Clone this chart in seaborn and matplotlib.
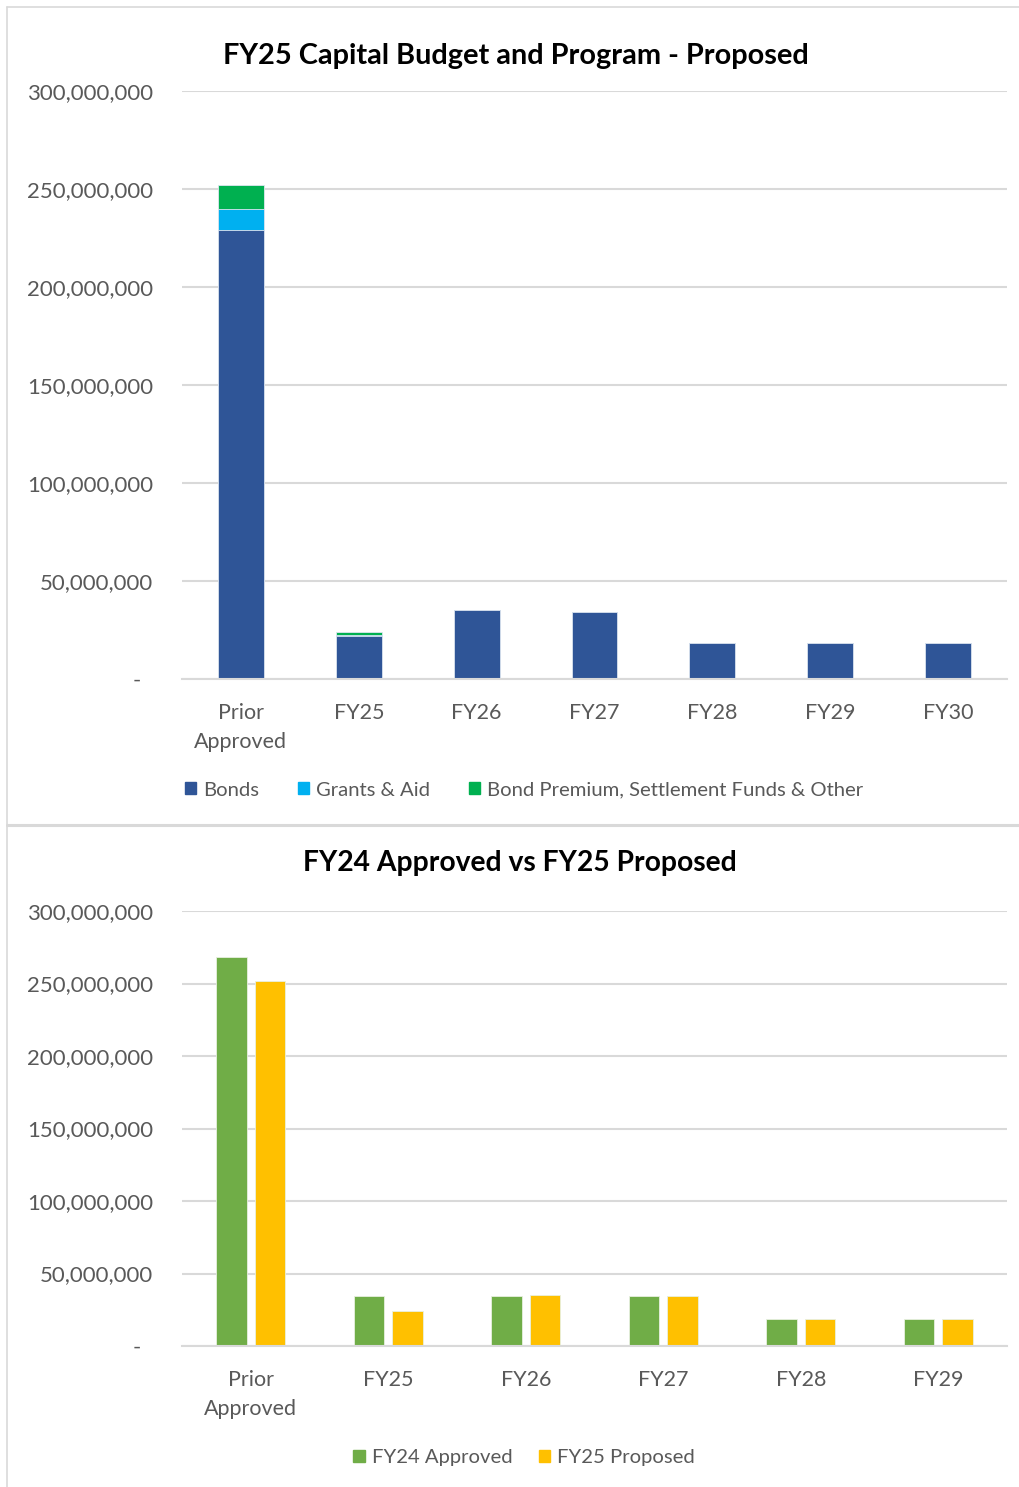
import matplotlib
matplotlib.use("Agg")
import matplotlib.pyplot as plt
from matplotlib.lines import Line2D
from matplotlib.patches import Patch
import seaborn as sns
import pandas as pd
import numpy as np

# ---------------- data ----------------
top_categories = ["Prior\nApproved", "FY25", "FY26", "FY27", "FY28", "FY29", "FY30"]
bonds = [229.0e6, 22.1e6, 35.4e6, 34.2e6, 18.4e6, 18.4e6, 18.4e6]
grants_aid = [10.7e6, 0.2e6, 0, 0, 0, 0, 0]
premium_other = [12.3e6, 1.5e6, 0, 0, 0, 0, 0]
top_series = ["Bonds", "Grants & Aid", "Bond Premium, Settlement Funds & Other"]

bottom_categories = ["Prior\nApproved", "FY25", "FY26", "FY27", "FY28", "FY29"]
fy24_approved = [268.1e6, 34.5e6, 34.5e6, 34.5e6, 18.4e6, 18.4e6]
fy25_proposed = [252.0e6, 23.8e6, 35.4e6, 34.2e6, 18.4e6, 18.4e6]
bottom_series = ["FY24 Approved", "FY25 Proposed"]

y_ticks = [0, 50e6, 100e6, 150e6, 200e6, 250e6, 300e6]
y_ticklabels = ["-  ", "50,000,000", "100,000,000", "150,000,000",
                "200,000,000", "250,000,000", "300,000,000"]

# ---------------- style ----------------
sns.set_theme(style="white")
plt.rcParams["font.family"] = ["Lato", "DejaVu Sans"]
TXT = "#595959"
GRID = "#d9d9d9"
C_BONDS, C_GRANTS, C_OTHER = "#2F5597", "#00B0F0", "#00B050"
C_FY24, C_FY25 = "#70AD47", "#FFC000"

W, H = 1019, 1487
fig = plt.figure(figsize=(W / 100, H / 100), dpi=100)

def ax_px(x0, y0, x1, y1):
    return fig.add_axes([x0 / W, 1 - y1 / H, (x1 - x0) / W, (y1 - y0) / H])

def style_axis(ax):
    ax.set_ylim(0, 300e6)
    ax.set_yticks(y_ticks)
    ax.set_yticklabels(y_ticklabels)
    ax.grid(axis="y", color=GRID, linewidth=1.5)
    ax.set_axisbelow(True)
    for s in ["top", "right", "left"]:
        ax.spines[s].set_visible(False)
    ax.spines["bottom"].set_color(GRID)
    ax.spines["bottom"].set_linewidth(1.5)
    ax.tick_params(axis="y", length=0, pad=21, labelsize=16, labelcolor=TXT)
    ax.tick_params(axis="x", length=0, pad=17, labelsize=15.5, labelcolor=TXT)
    for t in ax.get_xticklabels():
        t.set_linespacing(1.6)
    ax.set_xlabel("")
    ax.set_ylabel("")

# ---------------- top chart ----------------
ax1 = ax_px(182, 91, 1007, 679)
df_top = pd.DataFrame({"cat": top_categories,
                       "b": bonds,
                       "g": np.array(bonds) + np.array(grants_aid),
                       "o": np.array(bonds) + np.array(grants_aid) + np.array(premium_other)})
sns.barplot(data=df_top, x="cat", y="o", color=C_OTHER, width=0.39, saturation=1,
            edgecolor="#dfe6f0", linewidth=0.6, ax=ax1)
sns.barplot(data=df_top, x="cat", y="g", color=C_GRANTS, width=0.39, saturation=1,
            edgecolor="#dfe6f0", linewidth=0.6, ax=ax1)
sns.barplot(data=df_top, x="cat", y="b", color=C_BONDS, width=0.39, saturation=1,
            edgecolor="#dfe6f0", linewidth=0.6, ax=ax1)
ax1.set_xlim(-0.5, len(top_categories) - 0.5)
style_axis(ax1)

fig.text(516 / W, 1 - 56 / H, "FY25 Capital Budget and Program - Proposed",
         ha="center", va="center", fontsize=20.8, fontweight="bold", color="black")

h1 = [Patch(color=c) for c in (C_BONDS, C_GRANTS, C_OTHER)]
fig.legend(h1, top_series, loc="center", bbox_to_anchor=(524 / W, 1 - 790 / H),
           ncol=3, frameon=False, fontsize=14.6, labelcolor=TXT,
           handlelength=0.55, handleheight=0.55, handletextpad=0.35, columnspacing=1.9)

# ---------------- bottom chart ----------------
ax2 = ax_px(182, 911, 1007, 1346)
df_bot = pd.DataFrame({
    "cat": bottom_categories * 2,
    "series": [bottom_series[0]] * len(bottom_categories) + [bottom_series[1]] * len(bottom_categories),
    "value": fy24_approved + fy25_proposed,
})
sns.barplot(data=df_bot, x="cat", y="value", hue="series",
            palette=[C_FY24, C_FY25], width=0.56, gap=0.2, saturation=1,
            edgecolor="#e8f0e0", linewidth=0.6, ax=ax2, legend=False)
ax2.set_xlim(-0.5, len(bottom_categories) - 0.5)
style_axis(ax2)

fig.text(520 / W, 1 - 863 / H, "FY24 Approved vs FY25 Proposed",
         ha="center", va="center", fontsize=20.3, fontweight="bold", color="black")

h2 = [Patch(color=c) for c in (C_FY24, C_FY25)]
fig.legend(h2, bottom_series, loc="center", bbox_to_anchor=(524 / W, 1 - 1458 / H),
           ncol=2, frameon=False, fontsize=14.6, labelcolor=TXT,
           handlelength=0.55, handleheight=0.55, handletextpad=0.35, columnspacing=1.3)

# ---------------- panel borders ----------------
def fline(x0, y0, x1, y1, lw=1.2):
    fig.add_artist(Line2D([x0 / W, x1 / W], [1 - y0 / H, 1 - y1 / H],
                          color="#d9d9d9", linewidth=lw, transform=fig.transFigure))

fline(7, 7, 1019, 7)
fline(7, 7, 7, 1487)
fline(7, 825, 1019, 825, lw=2.2)

fig.savefig("out.png", dpi=100)
